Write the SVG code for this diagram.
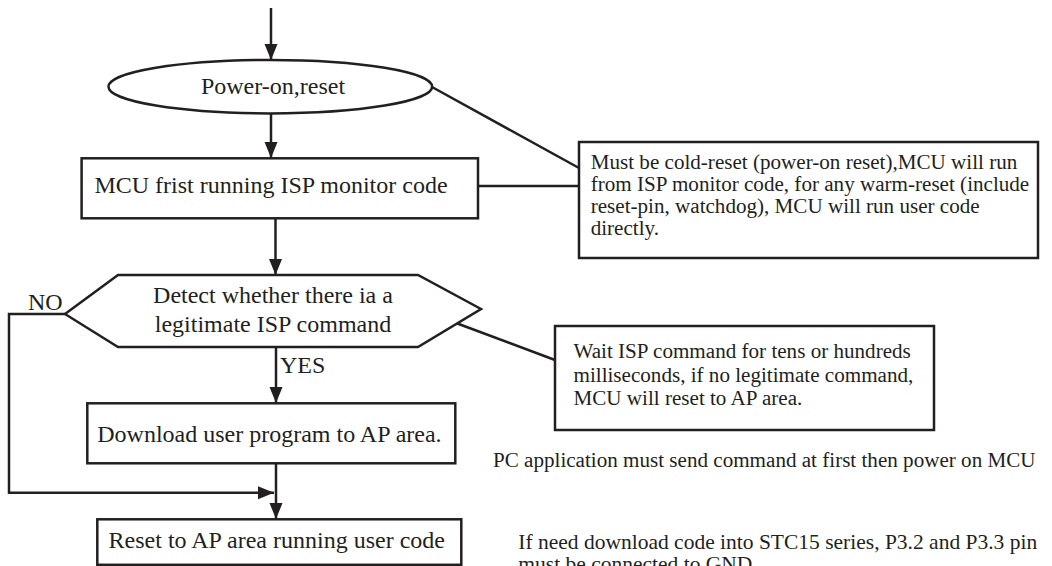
<svg xmlns="http://www.w3.org/2000/svg" width="1052" height="566" viewBox="0 0 1052 566">
<defs>
<style>
.shape{fill:#fff;stroke:#231f20;stroke-width:2.5}
.line{fill:none;stroke:#231f20;stroke-width:2.5}
.t{font-family:"Liberation Serif","Times New Roman",serif;fill:#231f20}
.m{font-size:24px;text-anchor:middle}
.n{font-size:21.1px}
</style>
<marker id="ah" markerUnits="userSpaceOnUse" markerWidth="17" markerHeight="14" refX="16" refY="6.5" orient="auto">
<path d="M0,0 L16,6.5 L0,13 z" fill="#231f20"/>
</marker>
</defs>
<rect width="1052" height="566" fill="#fff"/>
<g id="connectors">
<line class="line" x1="271" y1="8" x2="271" y2="60" marker-end="url(#ah)"/>
<line class="line" x1="271" y1="113" x2="271" y2="158" marker-end="url(#ah)"/>
<line class="line" x1="275.5" y1="218.5" x2="275.5" y2="275" marker-end="url(#ah)"/>
<line class="line" x1="276" y1="347" x2="276" y2="403" marker-end="url(#ah)"/>
<line class="line" x1="276" y1="463.5" x2="276" y2="519" marker-end="url(#ah)"/>
<path class="line" d="M65,314 H9 V492.7 H274" marker-end="url(#ah)"/>
<line class="line" x1="432" y1="87" x2="579" y2="168"/>
<line class="line" x1="478" y1="186" x2="579" y2="186"/>
<line class="line" x1="456" y1="323" x2="555" y2="360"/>
</g>
<g id="start">
<ellipse class="shape" cx="270.3" cy="86.7" rx="161.8" ry="26.7"/>
<text class="t m" x="273" y="94.3">Power-on,reset</text>
</g>
<g id="isp-monitor">
<rect class="shape" x="81.6" y="158.3" width="396.4" height="60"/>
<text class="t m" x="271" y="192.7">MCU frist running ISP monitor code</text>
</g>
<g id="detect">
<polygon class="shape" points="65,314 118,275 418,275 481,309 418,347 118,347"/>
<text class="t m" x="273" y="303.3">Detect whether there ia a</text>
<text class="t m" x="273" y="332.3">legitimate ISP command</text>
</g>
<g id="download">
<rect class="shape" x="87.3" y="403.3" width="368" height="60"/>
<text class="t m" x="269.4" y="441.7">Download user program to AP area.</text>
</g>
<g id="run-user">
<rect class="shape" x="97.3" y="519.3" width="364" height="45.5"/>
<text class="t m" x="276.8" y="548.3">Reset to AP area running user code</text>
</g>
<g id="labels">
<text class="t" font-size="24" x="28" y="309.5">NO</text>
<text class="t" font-size="24" x="280" y="373.3">YES</text>
</g>
<g id="note-reset">
<rect class="shape" x="579" y="142" width="459" height="116"/>
<text class="t n" x="590.7" y="169.3">Must be cold-reset (power-on reset),MCU will run</text>
<text class="t n" x="590.7" y="191.3">from ISP monitor code, for any warm-reset (include</text>
<text class="t n" x="590.7" y="213.3">reset-pin, watchdog), MCU will run user code</text>
<text class="t n" x="590.7" y="235.3">directly.</text>
</g>
<g id="note-wait">
<rect class="shape" x="555" y="326" width="379" height="104"/>
<text class="t n" x="573.5" y="358.3">Wait ISP command for tens or hundreds</text>
<text class="t n" x="573.5" y="381.7">milliseconds, if no legitimate command,</text>
<text class="t n" x="573.5" y="405">MCU will reset to AP area.</text>
</g>
<g id="notes">
<text class="t n" x="493" y="466.7">PC application must send command at first then power on MCU</text>
<text class="t" font-size="21.5" x="518.3" y="549.3">If need download code into STC15 series, P3.2 and P3.3 pin</text>
<text class="t" font-size="21.5" x="518.3" y="571.3">must be connected to GND</text>
</g>
</svg>
